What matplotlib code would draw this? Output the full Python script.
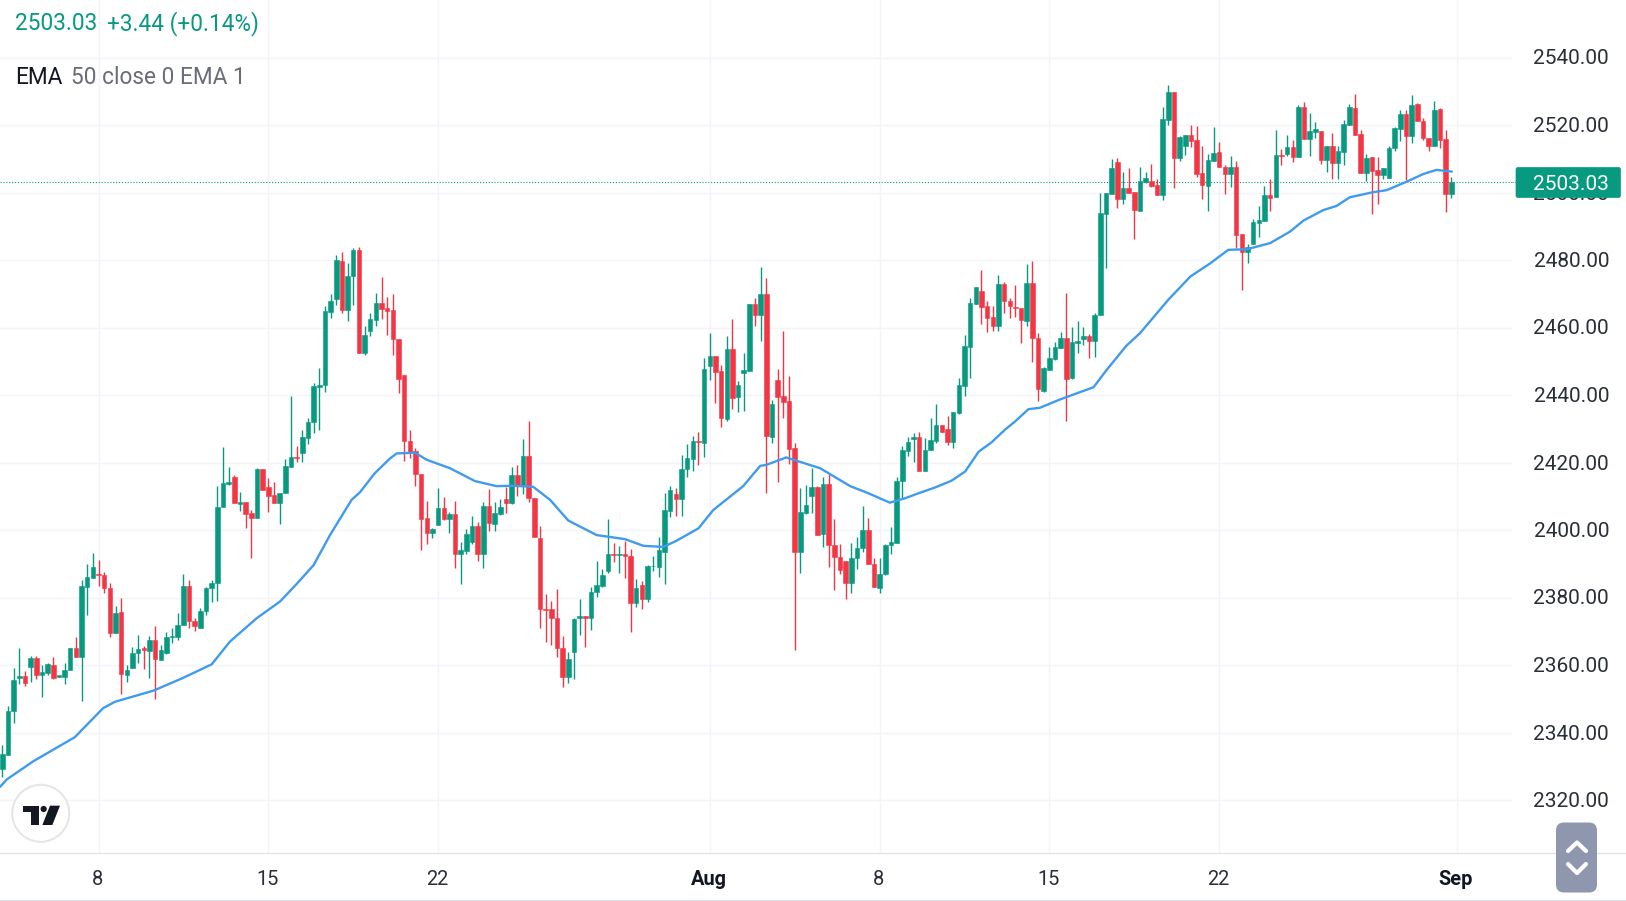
import numpy as np
import matplotlib
matplotlib.use("Agg")
import matplotlib.pyplot as plt
from matplotlib.patches import FancyBboxPatch, Circle, Polygon

plt.rcParams['font.family'] = ['Roboto', 'DejaVu Sans']

opens = [
2329.1,2333.3,2346.5,2356.1,2356.6,2359.3,2362.2,2356.9,2357.7,2360.0,
2356.3,2356.5,2358.5,2365.1,2362.5,2383.2,2385.9,2387.0,2386.7,2382.7,
2369.6,2375.7,2357.1,2359.0,2363.5,2364.9,2364.2,2367.4,2361.5,2363.6,
2368.2,2368.4,2372.0,2383.4,2373.0,2371.1,2375.9,2382.7,2384.2,2406.7,
2413.6,2415.8,2407.8,2408.3,2405.1,2403.7,2418.1,2412.6,2410.3,2408.1,
2410.9,2418.8,2421.7,2422.7,2427.4,2431.9,2442.5,2442.9,2464.7,2468.3,
2479.7,2465.3,2475.3,2483.0,2452.4,2459.1,2462.3,2467.3,2465.9,2465.2,
2456.5,2445.8,2426.4,2423.4,2416.5,2403.5,2399.2,2401.5,2406.4,2403.2,
2404.7,2392.8,2393.9,2396.5,2401.2,2392.8,2407.1,2401.8,2404.7,2409.1,
2408.1,2416.2,2413.3,2421.9,2409.4,2397.5,2376.6,2376.6,2373.8,2364.9,
2356.3,2364.0,2373.8,2374.5,2373.8,2381.5,2383.5,2387.9,2392.9,2392.6,
2392.9,2392.3,2378.3,2383.7,2379.7,2389.2,2389.1,2393.6,2405.7,2410.7,
2409.1,2418.1,2421.0,2426.4,2425.9,2448.7,2451.5,2447.1,2432.9,2453.6,
2439.5,2446.6,2447.2,2467.0,2463.8,2469.9,2427.7,2444.4,2439.7,2438.3,
2424.3,2393.4,2405.1,2410.1,2412.8,2398.7,2413.6,2395.7,2391.9,2390.8,
2384.2,2391.6,2394.6,2400.0,2389.9,2382.7,2386.9,2395.5,2396.2,2414.4,
2423.5,2427.1,2427.5,2417.4,2423.7,2426.5,2431.1,2429.9,2426.2,2434.8,
2442.8,2454.3,2467.0,2470.8,2466.4,2463.0,2460.4,2472.9,2467.9,2466.1,
2465.7,2462.0,2473.3,2457.0,2441.3,2447.5,2450.7,2454.0,2456.8,2444.9,
2455.5,2456.5,2457.4,2455.9,2463.6,2493.5,2499.6,2509.0,2498.2,2501.3,
2500.1,2494.6,2503.1,2503.5,2502.2,2499.4,2521.5,2529.9,2510.3,2513.8,
2517.0,2515.6,2505.7,2502.0,2509.4,2512.0,2507.6,2505.5,2507.6,2487.7,
2482.5,2484.8,2491.1,2491.7,2499.3,2498.8,2511.1,2511.4,2513.4,2510.4,
2525.2,2515.9,2518.0,2518.2,2509.6,2513.8,2508.8,2512.1,2520.0,2525.1,
2517.2,2505.9,2510.6,2506.7,2505.2,2504.4,2513.1,2518.8,2523.3,2516.7,
2526.1,2521.3,2516.1,2513.8,2524.6,2515.9,2499.6]

highs = [
2336.3,2347.8,2359.0,2364.9,2358.2,2362.7,2362.7,2360.0,2360.5,2362.3,
2357.0,2360.7,2365.1,2368.4,2385.2,2389.9,2393.3,2391.1,2387.5,2384.2,
2377.5,2379.8,2360.0,2365.4,2368.9,2365.7,2368.6,2371.5,2365.9,2369.9,
2370.9,2375.3,2386.9,2385.2,2373.8,2376.8,2383.2,2385.2,2413.0,2424.5,
2418.6,2416.3,2411.2,2408.3,2405.9,2418.3,2418.1,2415.3,2414.1,2410.9,
2421.0,2439.7,2424.9,2429.6,2433.1,2443.5,2447.9,2466.4,2469.8,2481.5,
2482.5,2479.0,2483.5,2484.0,2460.3,2464.2,2470.1,2475.1,2469.1,2469.9,
2456.5,2445.8,2429.6,2424.2,2416.5,2408.7,2400.5,2412.4,2409.9,2405.4,
2408.7,2396.5,2400.3,2404.2,2402.5,2408.4,2412.1,2408.2,2409.1,2412.6,
2418.6,2419.3,2426.9,2432.3,2409.4,2401.2,2380.9,2379.0,2382.4,2368.6,
2364.0,2373.8,2379.5,2374.5,2383.2,2390.8,2388.4,2403.3,2396.2,2395.4,
2396.8,2394.4,2385.5,2384.9,2389.6,2392.3,2398.0,2410.9,2413.0,2412.3,
2422.2,2425.4,2427.8,2429.1,2450.9,2458.3,2451.5,2448.9,2457.5,2462.5,
2444.2,2452.5,2467.0,2468.8,2477.8,2474.6,2438.5,2447.6,2458.9,2445.6,
2425.9,2412.3,2413.3,2418.3,2413.1,2415.6,2416.6,2403.2,2396.0,2390.8,
2396.2,2397.8,2407.1,2403.5,2391.6,2391.6,2396.0,2400.8,2415.6,2425.0,
2427.7,2428.6,2429.0,2427.2,2433.3,2437.3,2431.1,2433.8,2435.0,2445.1,
2457.8,2468.6,2472.1,2477.0,2468.0,2466.4,2475.6,2473.6,2468.7,2472.6,
2465.7,2478.8,2479.8,2458.3,2448.2,2454.3,2455.6,2458.8,2470.3,2460.1,
2461.9,2460.1,2458.1,2464.2,2500.0,2499.9,2509.8,2510.1,2506.0,2507.2,
2500.1,2507.5,2506.2,2508.4,2503.9,2525.2,2531.9,2529.9,2516.6,2517.0,
2520.0,2519.7,2513.8,2511.3,2519.3,2515.1,2508.2,2510.8,2509.3,2487.7,
2484.7,2492.1,2496.0,2501.9,2503.9,2518.5,2512.9,2517.0,2515.6,2525.9,
2526.9,2523.5,2521.0,2518.2,2513.8,2517.5,2513.8,2521.5,2526.1,2529.2,
2518.5,2511.4,2510.6,2510.4,2507.4,2513.8,2519.3,2524.4,2524.4,2528.9,
2526.4,2522.0,2516.1,2527.2,2524.9,2518.5,2504.7]

lows = [
2326.9,2333.3,2342.7,2354.4,2353.9,2355.1,2356.0,2350.6,2357.0,2356.0,
2356.3,2354.4,2358.5,2362.5,2349.4,2374.8,2385.7,2383.4,2381.2,2368.4,
2369.6,2351.3,2355.0,2359.0,2360.5,2358.7,2356.2,2349.8,2361.5,2363.4,
2366.4,2367.4,2372.0,2370.9,2370.2,2371.1,2374.8,2378.8,2379.0,2406.7,
2413.3,2407.9,2405.7,2400.7,2391.8,2403.7,2411.8,2405.2,2408.1,2401.7,
2410.9,2418.8,2420.1,2420.2,2425.4,2428.6,2429.6,2440.8,2462.7,2466.7,
2464.4,2462.0,2466.7,2452.5,2451.9,2457.5,2460.3,2462.4,2457.8,2451.9,
2440.7,2420.5,2421.4,2413.0,2394.1,2395.9,2397.5,2401.5,2403.0,2399.2,
2388.8,2384.0,2392.9,2396.0,2390.9,2388.6,2399.8,2399.8,2404.4,2404.9,
2407.7,2410.2,2410.7,2408.4,2397.8,2370.9,2366.9,2365.9,2362.3,2353.4,
2354.6,2356.0,2368.9,2365.4,2370.4,2380.2,2383.2,2387.4,2390.4,2387.4,
2385.7,2369.9,2377.3,2376.7,2378.8,2387.9,2386.2,2383.9,2403.9,2404.2,
2404.2,2415.8,2417.6,2419.3,2421.7,2444.5,2437.7,2430.6,2432.4,2435.8,
2435.1,2435.4,2447.2,2460.4,2456.1,2411.1,2425.9,2414.1,2433.1,2419.6,
2364.5,2387.4,2404.7,2404.9,2398.5,2395.1,2389.1,2382.2,2387.0,2379.5,
2381.2,2388.3,2393.6,2389.8,2383.0,2381.2,2386.7,2392.9,2396.2,2409.4,
2421.9,2420.2,2417.4,2417.4,2423.7,2425.7,2429.1,2425.2,2424.2,2434.3,
2439.8,2444.9,2467.0,2460.9,2458.8,2459.1,2459.0,2464.4,2462.7,2463.0,
2455.5,2460.5,2449.9,2438.3,2441.0,2447.4,2450.4,2453.8,2432.4,2444.6,
2452.4,2454.8,2451.1,2451.4,2463.6,2477.7,2499.6,2495.3,2496.5,2500.0,
2486.1,2494.6,2502.7,2501.7,2499.3,2497.8,2520.0,2501.2,2509.4,2511.1,
2513.4,2504.7,2498.0,2494.6,2509.4,2507.6,2499.5,2501.7,2483.5,2471.1,
2479.0,2484.8,2486.9,2491.7,2494.6,2498.8,2508.2,2510.8,2509.1,2510.4,
2515.9,2510.8,2516.1,2508.4,2506.2,2503.9,2503.9,2508.2,2520.0,2517.0,
2505.9,2503.5,2493.6,2496.6,2503.9,2504.4,2512.3,2515.4,2503.7,2514.8,
2521.3,2515.6,2512.3,2513.8,2513.1,2494.3,2498.5]

closes = [
2333.6,2346.5,2355.5,2356.6,2354.6,2362.2,2356.9,2357.8,2360.2,2356.2,
2357.0,2358.5,2365.1,2362.5,2383.4,2386.0,2389.1,2386.7,2382.9,2369.6,
2375.5,2357.2,2358.5,2363.5,2364.7,2364.5,2367.4,2361.7,2364.4,2368.3,
2368.6,2372.0,2383.4,2372.9,2371.7,2376.0,2382.7,2384.4,2406.8,2413.8,
2414.2,2407.9,2408.2,2404.8,2403.7,2418.1,2411.8,2410.1,2408.1,2410.9,
2418.9,2421.5,2421.4,2427.7,2432.1,2442.8,2443.0,2464.9,2467.9,2480.0,
2465.2,2475.3,2483.0,2452.5,2457.8,2462.6,2467.3,2465.6,2465.0,2456.5,
2444.7,2426.3,2423.2,2416.5,2403.4,2399.2,2400.2,2406.4,2403.2,2404.8,
2392.8,2394.1,2398.8,2401.2,2392.8,2407.1,2402.0,2404.9,2406.7,2408.1,
2416.2,2413.3,2421.9,2409.4,2397.8,2376.5,2376.3,2373.8,2364.9,2356.3,
2361.7,2373.6,2374.5,2373.8,2381.5,2383.6,2386.7,2392.9,2392.6,2392.9,
2392.4,2378.3,2382.7,2379.7,2389.3,2389.4,2394.1,2405.9,2411.9,2409.1,
2418.1,2421.2,2426.4,2426.1,2447.7,2451.5,2446.9,2433.1,2453.6,2439.2,
2443.0,2447.4,2467.0,2463.8,2469.9,2427.9,2437.3,2439.5,2438.0,2424.1,
2393.6,2405.2,2407.4,2412.7,2398.5,2413.6,2395.7,2391.9,2388.1,2384.2,
2391.7,2394.6,2400.0,2389.8,2383.0,2387.0,2395.6,2396.4,2414.5,2423.7,
2426.2,2427.6,2417.4,2423.7,2426.7,2431.1,2429.1,2426.2,2435.0,2442.9,
2454.5,2467.3,2472.1,2466.2,2462.9,2460.5,2472.9,2467.8,2466.4,2465.7,
2462.3,2473.3,2457.0,2441.7,2448.0,2450.9,2454.1,2456.8,2444.6,2455.6,
2455.9,2457.4,2456.0,2463.6,2493.8,2499.9,2507.4,2498.2,2501.3,2500.0,
2494.8,2503.4,2504.3,2502.0,2499.3,2521.7,2529.8,2510.3,2516.4,2517.0,
2515.4,2505.5,2502.3,2509.6,2511.6,2507.6,2505.5,2507.6,2487.5,2482.5,
2484.0,2491.3,2491.9,2499.3,2498.4,2511.0,2510.8,2513.4,2510.6,2525.4,
2515.9,2518.1,2518.8,2509.6,2513.8,2508.8,2512.3,2520.2,2525.4,2517.0,
2505.9,2510.3,2506.5,2505.2,2507.2,2513.2,2519.0,2523.3,2516.8,2525.9,
2521.3,2516.1,2513.8,2524.4,2515.6,2499.6,2503.03]

ema_candle = [0.6,1.8,6.5,13.8,18.8,20.9,27.7,32.7,38,41.2,45.9,50.06,53,56,58.9,62.7,64.2,66.8,69.5,70.7,
73.9,76,80.1,84.5,88.3,91.3,94.8,97.8,101,106,111,114.3,117.8,120.1,124,126.6,131.9,134.9,136,139.5,
145.5,150.8,154,157.8,160.5,162.9,165.8,168.7,171.1,173.5,175.8,178.2,179.9,182.3,184.3,187.9,193.8,196.1,199.6,202,
207,210.9,214.4,217.6,220.9,225,228.5,230.9,234.4,236.7,239.1,243.2,245.6,249.1,252.1,254.4,257.1]
ema_values = [2323.9,2326.1,2331.5,2338.6,2347.2,2349.1,2352.4,2356.0,2360.2,2366.9,2373.8,2378.8,2384,2389.6,2398.5,2408.9,2411.2,2416.8,2421.2,2422.7,
2422.9,2420.8,2418.3,2414.5,2413.0,2413.1,2412.8,2408.9,2402.8,2398.5,2397.3,2395.3,2395.0,2396.8,2400.5,2405.9,2413,2419,2419.3,2421.5,
2418.3,2413,2410.9,2408.1,2409.4,2410.9,2412.6,2414.6,2417.3,2423.2,2426,2429.8,2432.1,2435.8,2436.2,2438.7,2442.3,2447.4,2454.6,2458.3,
2468.2,2475.1,2479,2483,2483.2,2485,2488.4,2491.7,2494.8,2496,2498.6,2500.1,2500.7,2503.2,2505.5,2506.7,2506.2]

price_ticks = [2320,2340,2360,2380,2400,2420,2440,2460,2480,2500,2520,2540]
date_pos = [17,47,77,125,155,185,215,257]
date_labels = ['8','15','22','Aug','8','15','22','Sep']
bold_labels = {'Aug','Sep'}
last_price = 2503.03
header_price = '2503.03'
header_change = '+3.44 (+0.14%)'

W, H = 1626, 901
GREEN, RED = '#089981', '#F23645'
GRID = '#f3f4f9'
PLOT_R, PLOT_B = 1512, 853
PX_PER_CANDLE = 5.66
X0 = 2.3
PX_PER_UNIT = 3.375
Y2540 = 57.5

fig = plt.figure(figsize=(W/100, H/100), dpi=100, facecolor='white')
ax = fig.add_axes([0, 1-PLOT_B/H, PLOT_R/W, PLOT_B/H])
ax.set_xlim(-X0/PX_PER_CANDLE, (PLOT_R-X0)/PX_PER_CANDLE)
ax.set_ylim(2540-(PLOT_B-Y2540)/PX_PER_UNIT, 2540+Y2540/PX_PER_UNIT)
for s in ax.spines.values():
    s.set_visible(False)
ax.tick_params(left=False, bottom=False, labelleft=False, labelbottom=False)
ax.set_yticks(price_ticks)
ax.set_xticks(date_pos)
ax.grid(True, color=GRID, lw=1.0)
ax.set_axisbelow(True)

o, h, l, c = map(np.array, (opens, highs, lows, closes))
xs = np.arange(len(o))
up = c >= o
cols = np.where(up, GREEN, RED)
ax.vlines(xs, l, h, colors=cols, lw=1.0, zorder=2)
ax.bar(xs, np.abs(c-o), bottom=np.minimum(o, c), width=0.8, color=cols,
       edgecolor=cols, lw=0.4, zorder=3)
ax.plot(np.array(ema_candle)-1, ema_values, color='#3f9bee', lw=1.7, zorder=4,
        solid_joinstyle='round', solid_capstyle='round')
ax.axhline(last_price, color=GREEN, lw=0.8, ls=(0, (1, 1.6)), zorder=1.5)

# overlay in pixel space for axis furniture
ov = fig.add_axes([0, 0, 1, 1], zorder=10)
ov.set_xlim(0, W)
ov.set_ylim(H, 0)
ov.axis('off')
ov.patch.set_alpha(0)

ov.plot([0, W], [852.7, 852.7], color='#e0e3eb', lw=0.9)
ov.plot([0, W], [900, 900], color='#e0e3eb', lw=0.9)
ov.plot([PLOT_R, 1517], [Y2540+(2540-last_price)*PX_PER_UNIT]*2, color=GREEN, lw=0.8, ls=(0, (1, 1.6)))

FS = 15.0
for p in price_ticks:
    ov.text(1609, Y2540+(2540-p)*PX_PER_UNIT-0.5, f'{p}.00', ha='right', va='center_baseline',
            fontsize=FS, color='#2a2e39')

tag_y = Y2540+(2540-last_price)*PX_PER_UNIT
ov.add_patch(FancyBboxPatch((1517, 168.5), 102.5, 28, boxstyle='round,pad=1,rounding_size=2',
                            fc=GREEN, ec=GREEN, lw=0.5, zorder=5))
ov.text(1609, tag_y+0.5, f'{last_price:.2f}', ha='right', va='center_baseline', fontsize=FS,
        color='white', zorder=6)

for p, t in zip(date_pos, date_labels):
    ov.text(X0+PX_PER_CANDLE*p-1, 877.5, t, ha='center', va='center_baseline', fontsize=14.4,
            color='#131722' if t in bold_labels else '#2a2e39',
            fontweight='bold' if t in bold_labels else 'normal')

ov.text(14.5, 20.5, header_price, ha='left', va='center_baseline', fontsize=16.3, color=GREEN)
ov.text(107, 20.5, header_change, ha='left', va='center_baseline', fontsize=16.3, color=GREEN)
ov.text(15.5, 74.5, 'EMA', ha='left', va='center_baseline', fontsize=16.3, color='#131722')
ov.text(71, 74.5, '50 close 0 EMA 1', ha='left', va='center_baseline', fontsize=16.3, color='#6a6d78')

# logo
ov.add_patch(Circle((40.7, 813.3), 28.5, fc='white', ec='#e6e6e6', lw=1.5, zorder=5))
LOGO = '#131722'
def zp(pts):
    return [(zx/3, 770+zy/3) for zx, zy in pts]
ov.add_patch(Polygon(zp([(68,107),(118,107),(118,165),(92,165),(92,127),(68,127)]), fc=LOGO, ec='none', zorder=6))
ov.add_patch(Circle((131/3, 770+117/3), 3.1, fc=LOGO, ec='none', zorder=6))
ov.add_patch(Polygon(zp([(150,107),(180,107),(157,165),(127,165)]), fc=LOGO, ec='none', zorder=6))

# scroll handle
ov.add_patch(FancyBboxPatch((1556+8, 822.5+8), 41-16, 70-16, boxstyle='round,pad=8,rounding_size=8',
                            fc='#8f97ae', ec='none', zorder=5))
ov.plot([1568, 1577, 1586], [851, 842.5, 851], color='white', lw=3.0, zorder=6,
        solid_capstyle='round', solid_joinstyle='round')
ov.plot([1568, 1577, 1586], [864, 873, 864], color='white', lw=3.0, zorder=6,
        solid_capstyle='round', solid_joinstyle='round')

fig.savefig('out.png', dpi=100, facecolor='white')
